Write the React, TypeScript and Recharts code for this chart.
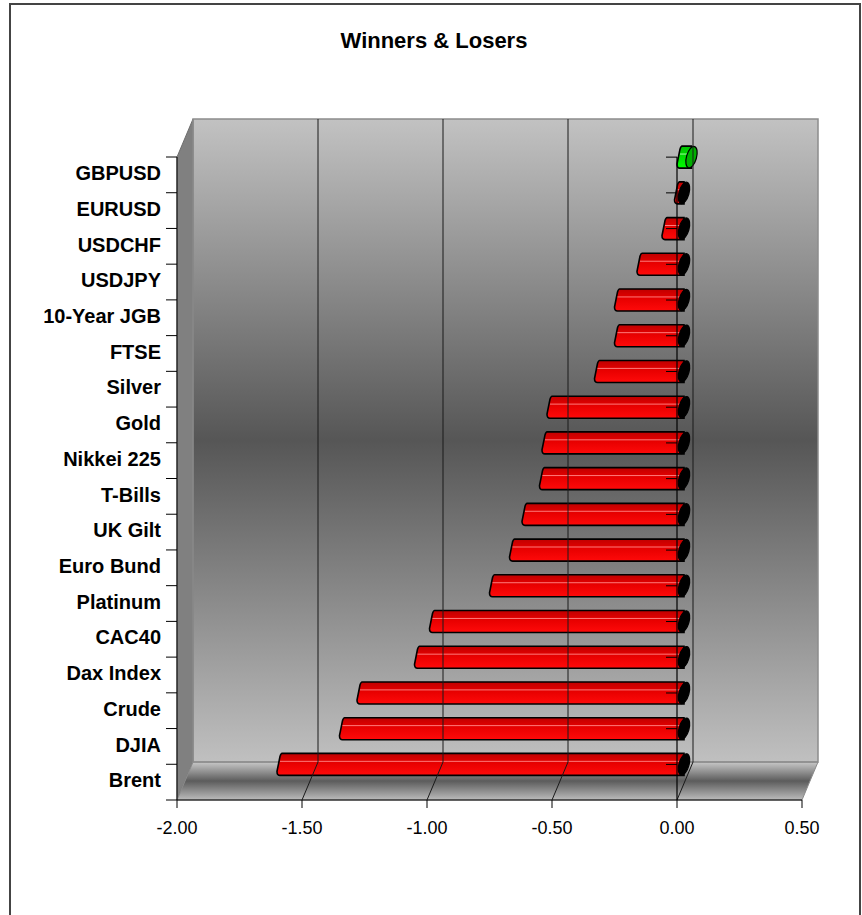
import React from "react";
import {
  BarChart,
  Bar,
  XAxis,
  YAxis,
  CartesianGrid,
  ReferenceLine,
} from "recharts";

const categories = [
  "GBPUSD",
  "EURUSD",
  "USDCHF",
  "USDJPY",
  "10-Year JGB",
  "FTSE",
  "Silver",
  "Gold",
  "Nikkei 225",
  "T-Bills",
  "UK Gilt",
  "Euro Bund",
  "Platinum",
  "CAC40",
  "Dax Index",
  "Crude",
  "DJIA",
  "Brent",
];
const changes = [
  0.03, -0.01, -0.06, -0.16, -0.25, -0.25, -0.33, -0.52, -0.54, -0.55, -0.62,
  -0.67, -0.75, -0.99, -1.05, -1.28, -1.35, -1.6,
];
const xTicks = [-2, -1.5, -1, -0.5, 0, 0.5];
const innerTicks = [-1.5, -1, -0.5, 0];

const data = categories.map((name, i) => ({ name, change: changes[i] }));

// layout of the 3d box
const W = 862;
const H = 915;
const PLOT_LEFT = 177;
const PLOT_RIGHT = 818;
const PLOT_TOP = 119;
const PLOT_BOTTOM = 800;
const DX = 16;
const DY = 38;
const BAND = (PLOT_BOTTOM - PLOT_TOP - DY) / categories.length;
const FONT = "'Liberation Sans', Arial, sans-serif";

function CategoryTick(props: any) {
  const { x, y, payload, index } = props;
  const top = y - BAND / 2;
  const bottom = y + BAND / 2;
  return (
    <g>
      <line x1={x} y1={top} x2={x} y2={bottom} stroke="#000" />
      <line x1={x - 11} y1={top} x2={x} y2={top} stroke="#000" />
      {index === categories.length - 1 && (
        <line x1={x - 11} y1={bottom} x2={x} y2={bottom} stroke="#000" />
      )}
      <text
        x={x - 16}
        y={y - 2}
        dy="0.36em"
        textAnchor="end"
        fontFamily={FONT}
        fontWeight="bold"
        fontSize={20}
        fill="#000"
      >
        {payload.value}
      </text>
    </g>
  );
}

function BarShape(props: any) {
  const { x, y, width, height, payload } = props;
  const v = payload.change;
  const a = Math.min(x, x + width);
  const b = Math.max(x, x + width);
  const zeroX = v < 0 ? b : a;
  const L = v < 0 ? a : zeroX;
  const R = (v < 0 ? zeroX : b) + 7;
  const T = y;
  const B = y + height;
  const cy = (T + B) / 2;
  const pos = v >= 0;
  const face = `M${L + 5},${T} L${R},${T} L${R},${B} L${L + 3},${B} Q${L},${B} ${L},${B - 4} L${L + 3},${T + 3} Q${L + 4},${T} ${L + 5},${T} Z`;
  return (
    <g>
      <path
        d={face}
        fill={pos ? "url(#greenFace)" : "url(#redFace)"}
        stroke="#000"
        strokeWidth={1.6}
      />
      <line
        x1={L + 3}
        y1={T + height * 0.36}
        x2={R}
        y2={T + height * 0.36}
        stroke={pos ? "#a0ffa0" : "#ff7a7a"}
        strokeWidth={1}
      />
      <ellipse
        cx={R}
        cy={cy}
        rx={5}
        ry={height / 2}
        transform={`rotate(16 ${R} ${cy})`}
        fill={pos ? "#00b000" : "#000"}
        stroke="#000"
        strokeWidth={1.2}
      />
      <line x1={zeroX - 11} y1={cy} x2={zeroX} y2={cy} stroke="#000" />
    </g>
  );
}

// gridline on the back wall plus its slanted continuation across the floor
function WallLine(props: any) {
  const { x1, y1, y2 } = props;
  const top = Math.min(y1, y2);
  const bottom = Math.max(y1, y2);
  const bx = x1 + DX;
  return (
    <g>
      <line x1={bx} y1={top} x2={bx} y2={bottom - DY} stroke="#1a1a1a" />
      <line x1={bx} y1={bottom - DY} x2={x1} y2={bottom} stroke="#1a1a1a" />
    </g>
  );
}

function ZeroLine(props: any) {
  const { x1, y1, x2, y2 } = props;
  const top = Math.min(y1, y2);
  const bottom = Math.max(y1, y2);
  return (
    <line x1={x1} y1={top + DY} x2={x2} y2={bottom} stroke="#000" strokeWidth={1.2} />
  );
}

export default function App() {
  return (
    <div
      style={{
        position: "absolute",
        left: 0,
        top: 0,
        width: W,
        height: H,
        overflow: "hidden",
        background: "#fff",
      }}
    >
      <div
        style={{
          position: "absolute",
          left: 9,
          top: 3,
          width: 852,
          height: 960,
          border: "2px solid #444",
          boxSizing: "border-box",
        }}
      />
      <div style={{ position: "absolute", left: 0, top: 0 }}>
        <BarChart
          width={W}
          height={H}
          data={data}
          layout="vertical"
          margin={{ top: PLOT_TOP, right: W - PLOT_RIGHT, bottom: 60, left: 0 }}
        >
          <defs>
            <linearGradient id="wallGrad" x1="0" y1="0" x2="0" y2="1">
              <stop offset="0" stopColor="#c2c2c2" />
              <stop offset="0.5" stopColor="#565656" />
              <stop offset="1" stopColor="#c0c0c0" />
            </linearGradient>
            <linearGradient id="floorGrad" x1="0" y1="0" x2="0" y2="1">
              <stop offset="0" stopColor="#c8c8c8" />
              <stop offset="0.5" stopColor="#5c5c5c" />
              <stop offset="1" stopColor="#bcbcbc" />
            </linearGradient>
            <linearGradient id="redFace" x1="0" y1="0" x2="0" y2="1">
              <stop offset="0" stopColor="#c00000" />
              <stop offset="0.45" stopColor="#e80000" />
              <stop offset="1" stopColor="#ff0a0a" />
            </linearGradient>
            <linearGradient id="greenFace" x1="0" y1="0" x2="0" y2="1">
              <stop offset="0" stopColor="#00c000" />
              <stop offset="1" stopColor="#00ff00" />
            </linearGradient>
          </defs>
          <text
            x={434}
            y={48}
            textAnchor="middle"
            fontFamily={FONT}
            fontWeight="bold"
            fontSize={22}
            fill="#000"
          >
            Winners &amp; Losers
          </text>
          <polygon
            points={`${PLOT_LEFT},${PLOT_TOP + DY} ${PLOT_LEFT + DX},${PLOT_TOP} ${PLOT_LEFT + DX},${PLOT_BOTTOM - DY} ${PLOT_LEFT},${PLOT_BOTTOM}`}
            fill="#808080"
            stroke="#6e6e6e"
          />
          <polygon
            points={`${PLOT_LEFT + DX},${PLOT_BOTTOM - DY} ${PLOT_RIGHT},${PLOT_BOTTOM - DY} ${PLOT_RIGHT - DX},${PLOT_BOTTOM} ${PLOT_LEFT},${PLOT_BOTTOM}`}
            fill="url(#floorGrad)"
            stroke="#8a8a8a"
          />
          <CartesianGrid
            xAxisId="front"
            yAxisId="front"
            horizontal={false}
            vertical={false}
            x={PLOT_LEFT + DX}
            y={PLOT_TOP}
            width={PLOT_RIGHT - PLOT_LEFT - DX}
            height={PLOT_BOTTOM - DY - PLOT_TOP}
            fill="url(#wallGrad)"
            fillOpacity={1}
          />
          <rect
            x={PLOT_LEFT + DX}
            y={PLOT_TOP}
            width={PLOT_RIGHT - PLOT_LEFT - DX}
            height={PLOT_BOTTOM - DY - PLOT_TOP}
            fill="none"
            stroke="#8c8c8c"
            strokeWidth={1.5}
          />
          <line
            x1={PLOT_LEFT}
            y1={PLOT_BOTTOM}
            x2={PLOT_RIGHT - DX}
            y2={PLOT_BOTTOM}
            stroke="#000"
            strokeWidth={1.2}
          />
          <XAxis
            xAxisId="front"
            type="number"
            domain={[-2, 0.5]}
            ticks={xTicks}
            interval={0}
            padding={{ left: 0, right: DX }}
            height={H - 60 - PLOT_BOTTOM}
            axisLine={false}
            tickLine={{ stroke: "#000" }}
            tickSize={8}
            tickMargin={13}
            tickFormatter={(v: number) => v.toFixed(2)}
            tick={{ fill: "#000", fontSize: 18, fontFamily: FONT }}
          />
          <YAxis
            yAxisId="front"
            type="category"
            dataKey="name"
            width={PLOT_LEFT}
            padding={{ top: DY, bottom: 0 }}
            axisLine={false}
            tickLine={false}
            tickSize={0}
            tickMargin={0}
            interval={0}
            tick={<CategoryTick />}
          />
          <YAxis
            yAxisId="bars"
            type="category"
            dataKey="name"
            width={0}
            padding={{ top: DY - BAND / 2, bottom: BAND / 2 }}
            hide
          />
          {innerTicks.map((t) => (
            <ReferenceLine
              key={t}
              x={t}
              xAxisId="front"
              yAxisId="front"
              shape={<WallLine />}
            />
          ))}
          <Bar
            dataKey="change"
            xAxisId="front"
            yAxisId="bars"
            barSize={22}
            isAnimationActive={false}
            shape={<BarShape />}
          />
          <ReferenceLine
            x={0}
            xAxisId="front"
            yAxisId="front"
            shape={<ZeroLine />}
          />
        </BarChart>
      </div>
    </div>
  );
}
